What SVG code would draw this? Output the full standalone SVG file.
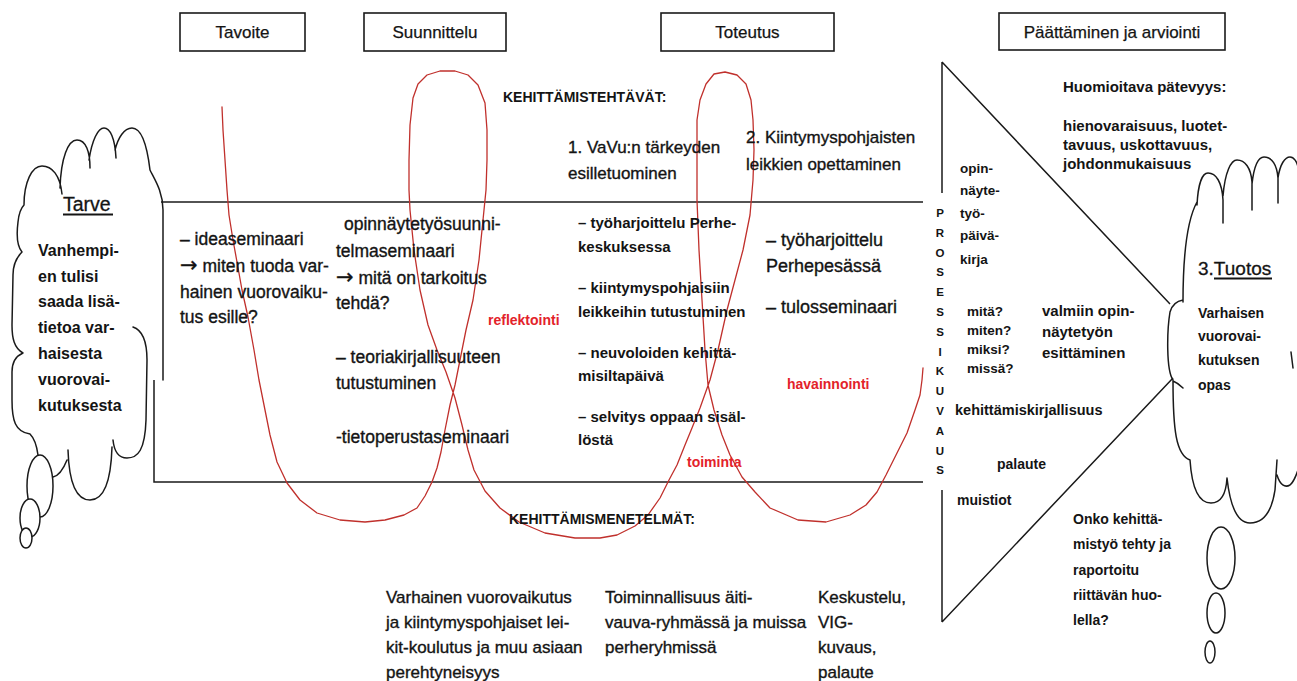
<svg xmlns="http://www.w3.org/2000/svg" width="1297" height="681" viewBox="0 0 1297 681">
<style>
text{font-family:"Liberation Sans",Arial,sans-serif;fill:#141414}
.r{font-size:17.5px;stroke:#141414;stroke-width:0.35}
.h{font-size:17px;text-anchor:middle;stroke:#141414;stroke-width:0.25}
.b{font-weight:bold}
.s14{font-size:14px}
.s15{font-size:15px}
.s135{font-size:13.5px}
.arr{font-family:"DejaVu Sans",sans-serif;font-size:21px}
.red{fill:#e3222a;font-weight:bold;font-size:14px}
.box{fill:#fff;stroke:#1a1a1a;stroke-width:1.6}
.ln{fill:none;stroke:#1a1a1a;stroke-width:1.5}
.cl{fill:none;stroke:#1a1a1a;stroke-width:1.5;stroke-linejoin:round;stroke-linecap:round}
.bub{fill:#fff;stroke:#1a1a1a;stroke-width:1.5}
.scribble{fill:none;stroke:#c0302c;stroke-width:1.3;stroke-linejoin:round;stroke-linecap:round}
</style>
<rect width="1297" height="681" fill="#fff"/>

<g id="connectors">
  <path class="ln" d="M161,202 L923,202"/>
  <path class="ln" d="M154,380 L154,482 L923,482"/>
  <path class="ln" d="M942,62 L942,193 M942,490 L942,622 M942,62 L1170,304 M942,622 L1173,378"/>
  <path class="scribble" d="M222,107 L223,130 L225,160 L227,190 L229,215 L233,240 L237,262 L242,290 L248,317 L254,350 L259,380 L264,405 L270,435 L277,462 L287,483 L300,500 L317,513 L340,520 L365,522 L385,520 L404,515 L417,508 L425,496 L432,482 L437,468 L441,452 L445,430 L450,405 L455,385 L460,360 L466,330 L473,300 L479,260 L483,220 L486,190 L487,160 L487,130 L485,103 L478,85 L468,75 L455,71 L440,71 L427,75 L418,84 L413,98 L410,125 L409,160 L409,190 L410,210 L414,250 L420,290 L428,325 L437,350 L446,372 L455,398 L462,425 L468,450 L474,470 L485,491 L500,508 L519,522 L545,533 L575,538 L600,538 L617,535 L635,526 L648,515 L660,498 L669,480 L677,465 L685,445 L692,428 L700,408 L710,380 L718,350 L727,310 L735,280 L743,250 L750,215 L753,180 L754,150 L753,120 L751,100 L746,84 L737,75 L725,72 L714,74 L706,84 L700,100 L697,120 L697,160 L697,200 L699,250 L702,300 L705,350 L708,385 L714,410 L722,435 L730,455 L742,477 L755,492 L770,508 L798,520 L826,522 L850,515 L866,505 L877,492 L886,475 L896,455 L907,433 L915,410 L920,395 L922,380 L923,368"/>
</g>

<g id="header-tavoite">
  <rect class="box" x="180" y="13" width="125" height="38"/>
  <text class="h" x="242.5" y="38">Tavoite</text>
</g>
<g id="header-suunnittelu">
  <rect class="box" x="364" y="13" width="142" height="38"/>
  <text class="h" x="435" y="38">Suunnittelu</text>
</g>
<g id="header-toteutus">
  <rect class="box" x="661" y="13" width="173" height="38"/>
  <text class="h" x="747.5" y="38">Toteutus</text>
</g>
<g id="header-paattaminen">
  <rect class="box" x="999" y="13" width="226" height="37"/>
  <text class="h" x="1112" y="38">Päättäminen ja arviointi</text>
</g>

<g id="tarve">
  <path class="cl" d="M30,434 C15,432 12,420 12,400 L12,372 C12,362 16,356 23,353 C14,348 12,338 12,325 L13,275 C13,265 16,258 22,252 C16,245 17,230 18,222 C19,212 21,208 24,205 C24,182 32,166 42,166 C52,166 60,175 62,194
  M60,188 C61,158 68,140 77,140 C86,140 90,152 90,168
  M89,160 C92,140 98,128 104,128 C110,128 115,138 116,158
  M115,150 C118,138 124,128 132,128 C142,128 147,145 150,170 C155,180 163,192 163,210 L163,380
  M133,327 C142,330 147,340 147,360 L146,420 C145,450 138,458 127,458 C118,458 114,450 113,440
  M112,447 C111,480 104,500 90,500 C76,500 69,482 68,450
  M67,460 C63,470 58,476 53,477
  M30,434 Q36,440 38,455"/>
  <ellipse class="bub" cx="40" cy="486" rx="13" ry="31"/>
  <ellipse class="bub" cx="30" cy="518" rx="10" ry="19"/>
  <ellipse class="bub" cx="26" cy="538" rx="6" ry="10"/>
  <text x="63" y="211" style="font-size:19.5px;stroke:#141414;stroke-width:0.3">Tarve</text>
  <line x1="63" y1="214.5" x2="113" y2="214.5" stroke="#141414" stroke-width="2"/>
  <text class="b" style="font-size:16px" x="38" y="256">Vanhempi-</text>
  <text class="b" style="font-size:16px" x="38" y="282">en tulisi</text>
  <text class="b" style="font-size:16px" x="38" y="307">saada lisä-</text>
  <text class="b" style="font-size:16px" x="38" y="333">tietoa var-</text>
  <text class="b" style="font-size:16px" x="38" y="359">haisesta</text>
  <text class="b" style="font-size:16px" x="38" y="385">vuorovai-</text>
  <text class="b" style="font-size:16px" x="38" y="411">kutuksesta</text>
</g>

<g id="tavoite-col">
  <text class="r" x="180" y="245">– ideaseminaari</text>
  <text class="r" x="180" y="272"><tspan class="arr">→</tspan> miten tuoda var-</text>
  <text class="r" x="180" y="298">hainen vuorovaiku-</text>
  <text class="r" x="180" y="323">tus esille?</text>
</g>

<g id="suunnittelu-col">
  <text class="r" x="344" y="230">opinnäytetyösuunni-</text>
  <text class="r" x="336" y="257">telmaseminaari</text>
  <text class="r" x="336" y="284"><tspan class="arr">→</tspan> mitä on tarkoitus</text>
  <text class="r" x="336" y="309">tehdä?</text>
  <text class="r" x="336" y="363">– teoriakirjallisuuteen</text>
  <text class="r" x="336" y="389">tutustuminen</text>
  <text class="r" x="336" y="443">-tietoperustaseminaari</text>
</g>

<g id="kehittamistehtavat">
  <text class="b s14" x="503" y="102">KEHITTÄMISTEHTÄVÄT:</text>
  <text class="r" style="font-size:17px" x="568" y="153">1. VaVu:n tärkeyden</text>
  <text class="r" style="font-size:17px" x="568" y="179">esilletuominen</text>
  <text class="r" style="font-size:17px" x="746" y="143">2. Kiintymyspohjaisten</text>
  <text class="r" style="font-size:17px" x="746" y="170">leikkien opettaminen</text>
</g>

<g id="toteutus-col1">
  <text class="b s15" x="578" y="228">– työharjoittelu Perhe-</text>
  <text class="b s15" x="578" y="252">keskuksessa</text>
  <text class="b s15" x="578" y="293">– kiintymyspohjaisiin</text>
  <text class="b s15" x="578" y="317">leikkeihin tutustuminen</text>
  <text class="b s15" x="578" y="358">– neuvoloiden kehittä-</text>
  <text class="b s15" x="578" y="381">misiltapäivä</text>
  <text class="b s15" x="578" y="422">– selvitys oppaan sisäl-</text>
  <text class="b s15" x="578" y="445">löstä</text>
</g>

<g id="toteutus-col2">
  <text class="r" style="font-size:18px" x="766" y="246">– työharjoittelu</text>
  <text class="r" style="font-size:18px" x="766" y="272">Perhepesässä</text>
  <text class="r" style="font-size:18px" x="766" y="313">– tulosseminaari</text>
</g>

<g id="red-labels">
  <text class="red" x="488" y="325">reflektointi</text>
  <text class="red" x="787" y="389">havainnointi</text>
  <text class="red" x="687" y="467">toiminta</text>
</g>

<g id="kehittamismenetelmat">
  <text class="b s14" x="509" y="524">KEHITTÄMISMENETELMÄT:</text>
  <text class="r" style="font-size:17px" x="386" y="603">Varhainen vuorovaikutus</text>
  <text class="r" style="font-size:17px" x="386" y="628">ja kiintymyspohjaiset lei-</text>
  <text class="r" style="font-size:17px" x="386" y="653">kit-koulutus ja muu asiaan</text>
  <text class="r" style="font-size:17px" x="386" y="678">perehtyneisyys</text>
  <text class="r" style="font-size:17px" x="605" y="603">Toiminnallisuus äiti-</text>
  <text class="r" style="font-size:17px" x="605" y="628">vauva-ryhmässä ja muissa</text>
  <text class="r" style="font-size:17px" x="605" y="653">perheryhmissä</text>
  <text class="r" style="font-size:17px" x="818" y="603">Keskustelu,</text>
  <text class="r" style="font-size:17px" x="818" y="628">VIG-</text>
  <text class="r" style="font-size:17px" x="818" y="653">kuvaus,</text>
  <text class="r" style="font-size:17px" x="818" y="678">palaute</text>
</g>

<g id="arviointi">
  <text class="b s15" x="1063" y="92">Huomioitava pätevyys:</text>
  <text class="b s15" x="1063" y="131">hienovaraisuus, luotet-</text>
  <text class="b s15" x="1063" y="150">tavuus, uskottavuus,</text>
  <text class="b s15" x="1063" y="169">johdonmukaisuus</text>
  <text class="b s135" x="960" y="173">opin-</text>
  <text class="b s135" x="960" y="195">näyte-</text>
  <text class="b s135" x="960" y="218">työ-</text>
  <text class="b s135" x="960" y="240">päivä-</text>
  <text class="b s135" x="960" y="264">kirja</text>
  <text class="b s135" x="967" y="316">mitä?</text>
  <text class="b s135" x="967" y="335">miten?</text>
  <text class="b s135" x="967" y="354">miksi?</text>
  <text class="b s135" x="967" y="373">missä?</text>
  <text class="b s15" x="1042" y="316">valmiin opin-</text>
  <text class="b s15" x="1042" y="337">näytetyön</text>
  <text class="b s15" x="1042" y="358">esittäminen</text>
  <text class="b" style="font-size:14.5px" x="955" y="415">kehittämiskirjallisuus</text>
  <text class="b s14" x="997" y="469">palaute</text>
  <text class="b s14" x="957" y="505">muistiot</text>
  <text class="b s14" x="1073" y="524">Onko kehittä-</text>
  <text class="b s14" x="1073" y="549">mistyö tehty ja</text>
  <text class="b s14" x="1073" y="575">raportoitu</text>
  <text class="b s14" x="1073" y="600">riittävän huo-</text>
  <text class="b s14" x="1073" y="625">lella?</text>
</g>

<g id="prosessikuvaus" style="font-size:11.5px;font-weight:bold;text-anchor:middle">
  <text x="940" y="217">P</text>
  <text x="940" y="237">R</text>
  <text x="940" y="257">O</text>
  <text x="940" y="276">S</text>
  <text x="940" y="296">E</text>
  <text x="940" y="316">S</text>
  <text x="940" y="336">S</text>
  <text x="940" y="356">I</text>
  <text x="940" y="375">K</text>
  <text x="940" y="395">U</text>
  <text x="940" y="415">V</text>
  <text x="940" y="435">A</text>
  <text x="940" y="455">U</text>
  <text x="940" y="474">S</text>
</g>

<g id="tuotos">
  <path class="cl" d="M1190,460 C1176,455 1173,430 1173,380
  M1173,381 Q1178,383 1183,388
  M1173,380 C1166,370 1167,330 1170,312 C1172,305 1177,301 1183,300
  M1183,302 C1183,265 1186,222 1197,202
  M1197,205 C1198,185 1202,173 1208,173 C1216,173 1222,182 1223,200 L1223,223
  M1223,196 C1225,172 1231,160 1237,160 C1245,160 1251,168 1252,182 L1252,210
  M1252,184 C1254,166 1258,157 1264,157 C1272,157 1277,165 1278,178 L1278,203
  M1278,178 C1280,164 1285,157 1290,157 C1294,157 1297,162 1298,167
  M1190,460 C1192,490 1200,503 1211,503 C1220,503 1226,495 1227,478
  M1227,478 C1230,505 1237,523 1250,523 C1265,523 1272,510 1275,490 L1277,460
  M1277,475 C1280,485 1285,488 1290,485 C1294,482 1296,476 1298,470
  M1291,352 L1293,368"/>
  <ellipse class="bub" cx="1221" cy="558" rx="14" ry="31"/>
  <ellipse class="bub" cx="1216" cy="613" rx="9" ry="20"/>
  <ellipse class="bub" cx="1210" cy="652" rx="5" ry="11"/>
  <text x="1198" y="275" style="font-size:19px;stroke:#141414;stroke-width:0.3">3.Tuotos</text>
  <line x1="1214" y1="278.5" x2="1272" y2="278.5" stroke="#141414" stroke-width="2"/>
  <text class="b s14" x="1198" y="318">Varhaisen</text>
  <text class="b s14" x="1198" y="341">vuorovai-</text>
  <text class="b s14" x="1198" y="365">kutuksen</text>
  <text class="b s14" x="1198" y="390">opas</text>
</g>
</svg>
